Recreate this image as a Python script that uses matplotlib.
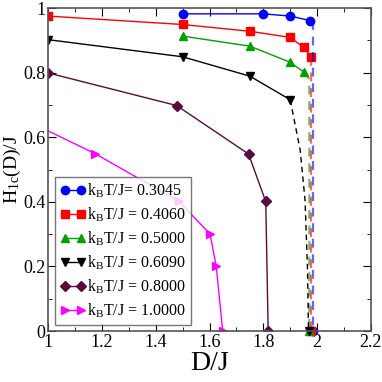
import matplotlib
matplotlib.use('Agg')
import matplotlib.pyplot as plt
from matplotlib.ticker import MultipleLocator, FormatStrFormatter

plt.rcParams['font.family'] = ['Liberation Serif', 'DejaVu Serif']
plt.rcParams['mathtext.fontset'] = 'custom'
plt.rcParams['mathtext.rm'] = 'Liberation Serif'
plt.rcParams['mathtext.it'] = 'Liberation Serif'

temps = ['0.3045', '0.4060', '0.5000', '0.6090', '0.8000', '1.0000']
labels = ['k$_{\\rm B}$T/J= 0.3045', 'k$_{\\rm B}$T/J = 0.4060', 'k$_{\\rm B}$T/J = 0.5000',
          'k$_{\\rm B}$T/J = 0.6090', 'k$_{\\rm B}$T/J = 0.8000', 'k$_{\\rm B}$T/J = 1.0000']
colors = ['#0000ff', '#ff0000', '#00a000', '#000000', '#5a0a3c', '#ff00ff']
markers = ['o', 's', '^', 'v', 'D', '>']

# solid branches
d_0 = [1.5, 1.8, 1.9, 1.975]
h_0 = [0.982, 0.982, 0.975, 0.961]
d_1 = [1.0, 1.5, 1.75, 1.9, 1.95, 1.978]
h_1 = [0.975, 0.949, 0.928, 0.909, 0.878, 0.849]
d_2 = [1.5, 1.75, 1.9, 1.95]
h_2 = [0.913, 0.882, 0.832, 0.802]
d_3 = [1.0, 1.5, 1.75, 1.9]
h_3 = [0.902, 0.849, 0.789, 0.716]
d_4 = [1.0, 1.478, 1.745, 1.809, 1.818]
h_4 = [0.799, 0.698, 0.548, 0.401, 0.0]
d_5 = [0.9, 1.175, 1.487, 1.602, 1.625, 1.649]
h_5 = [0.66, 0.549, 0.401, 0.30, 0.20, 0.0]

# dashed branches (down to zero)
dd_0 = [1.986, 1.986]
hd_0 = [0.961, 0.0]
dd_1 = [1.979, 1.979]
hd_1 = [0.849, 0.0]
dd_2 = [1.95, 1.971, 1.971]
hd_2 = [0.802, 0.78, 0.0]
dd_3 = [1.9, 1.937, 1.955, 1.964, 1.968]
hd_3 = [0.716, 0.56, 0.406, 0.2, 0.0]

solid = [(d_0, h_0), (d_1, h_1), (d_2, h_2), (d_3, h_3), (d_4, h_4), (d_5, h_5)]
dashed = [(dd_0, hd_0), (dd_1, hd_1), (dd_2, hd_2), (dd_3, hd_3)]

fig = plt.figure(figsize=(3.82, 3.82), dpi=100)
ax = fig.add_axes([0.126, 0.1335, 0.845, 0.8455])

for i, (d, h) in enumerate(solid):
    ax.plot(d, h, '-', color=colors[i], marker=markers[i], markersize=6 if markers[i] != 'D' else 5,
            lw=1, label=labels[i])

for i, (d, h) in enumerate(dashed):
    alpha = 1.0 if i == 3 else 0.6
    ax.plot(d, h, '--', color=colors[i], lw=1.6 if i < 3 else 1.0, alpha=alpha, dashes=(4, 3))
    ax.plot(d[-1], h[-1], marker=markers[i], color=colors[i], markersize=6, clip_on=False)

ax.set_xlim(1.0, 2.2)
ax.set_ylim(0.0, 1.0)
ax.xaxis.set_major_locator(MultipleLocator(0.2))
ax.xaxis.set_minor_locator(MultipleLocator(0.1))
ax.yaxis.set_major_locator(MultipleLocator(0.2))
ax.yaxis.set_minor_locator(MultipleLocator(0.1))
ax.xaxis.set_major_formatter(FormatStrFormatter('%g'))
ax.yaxis.set_major_formatter(FormatStrFormatter('%g'))
ax.tick_params(which='both', direction='in', top=True, right=True, labelsize=13, pad=2)
ax.tick_params(which='major', length=6)
ax.tick_params(which='minor', length=3)
for s in ax.spines.values():
    s.set_color('#555555')
    s.set_linewidth(1.2)

ax.set_xlabel('D/J', fontsize=20, labelpad=0)
ax.set_ylabel('H$_{\\rm 1c}$(D)/J', fontsize=14, labelpad=0)

leg = ax.legend(loc='lower left', bbox_to_anchor=(0.022, 0.018), numpoints=2, fontsize=11.5,
                frameon=True, fancybox=False, borderpad=0.3, labelspacing=0.35,
                handlelength=1.6, handletextpad=0.1, borderaxespad=0.0)
leg.get_frame().set_edgecolor('#555555')
leg.get_frame().set_linewidth(1.0)

fig.savefig('out.png', dpi=100)
